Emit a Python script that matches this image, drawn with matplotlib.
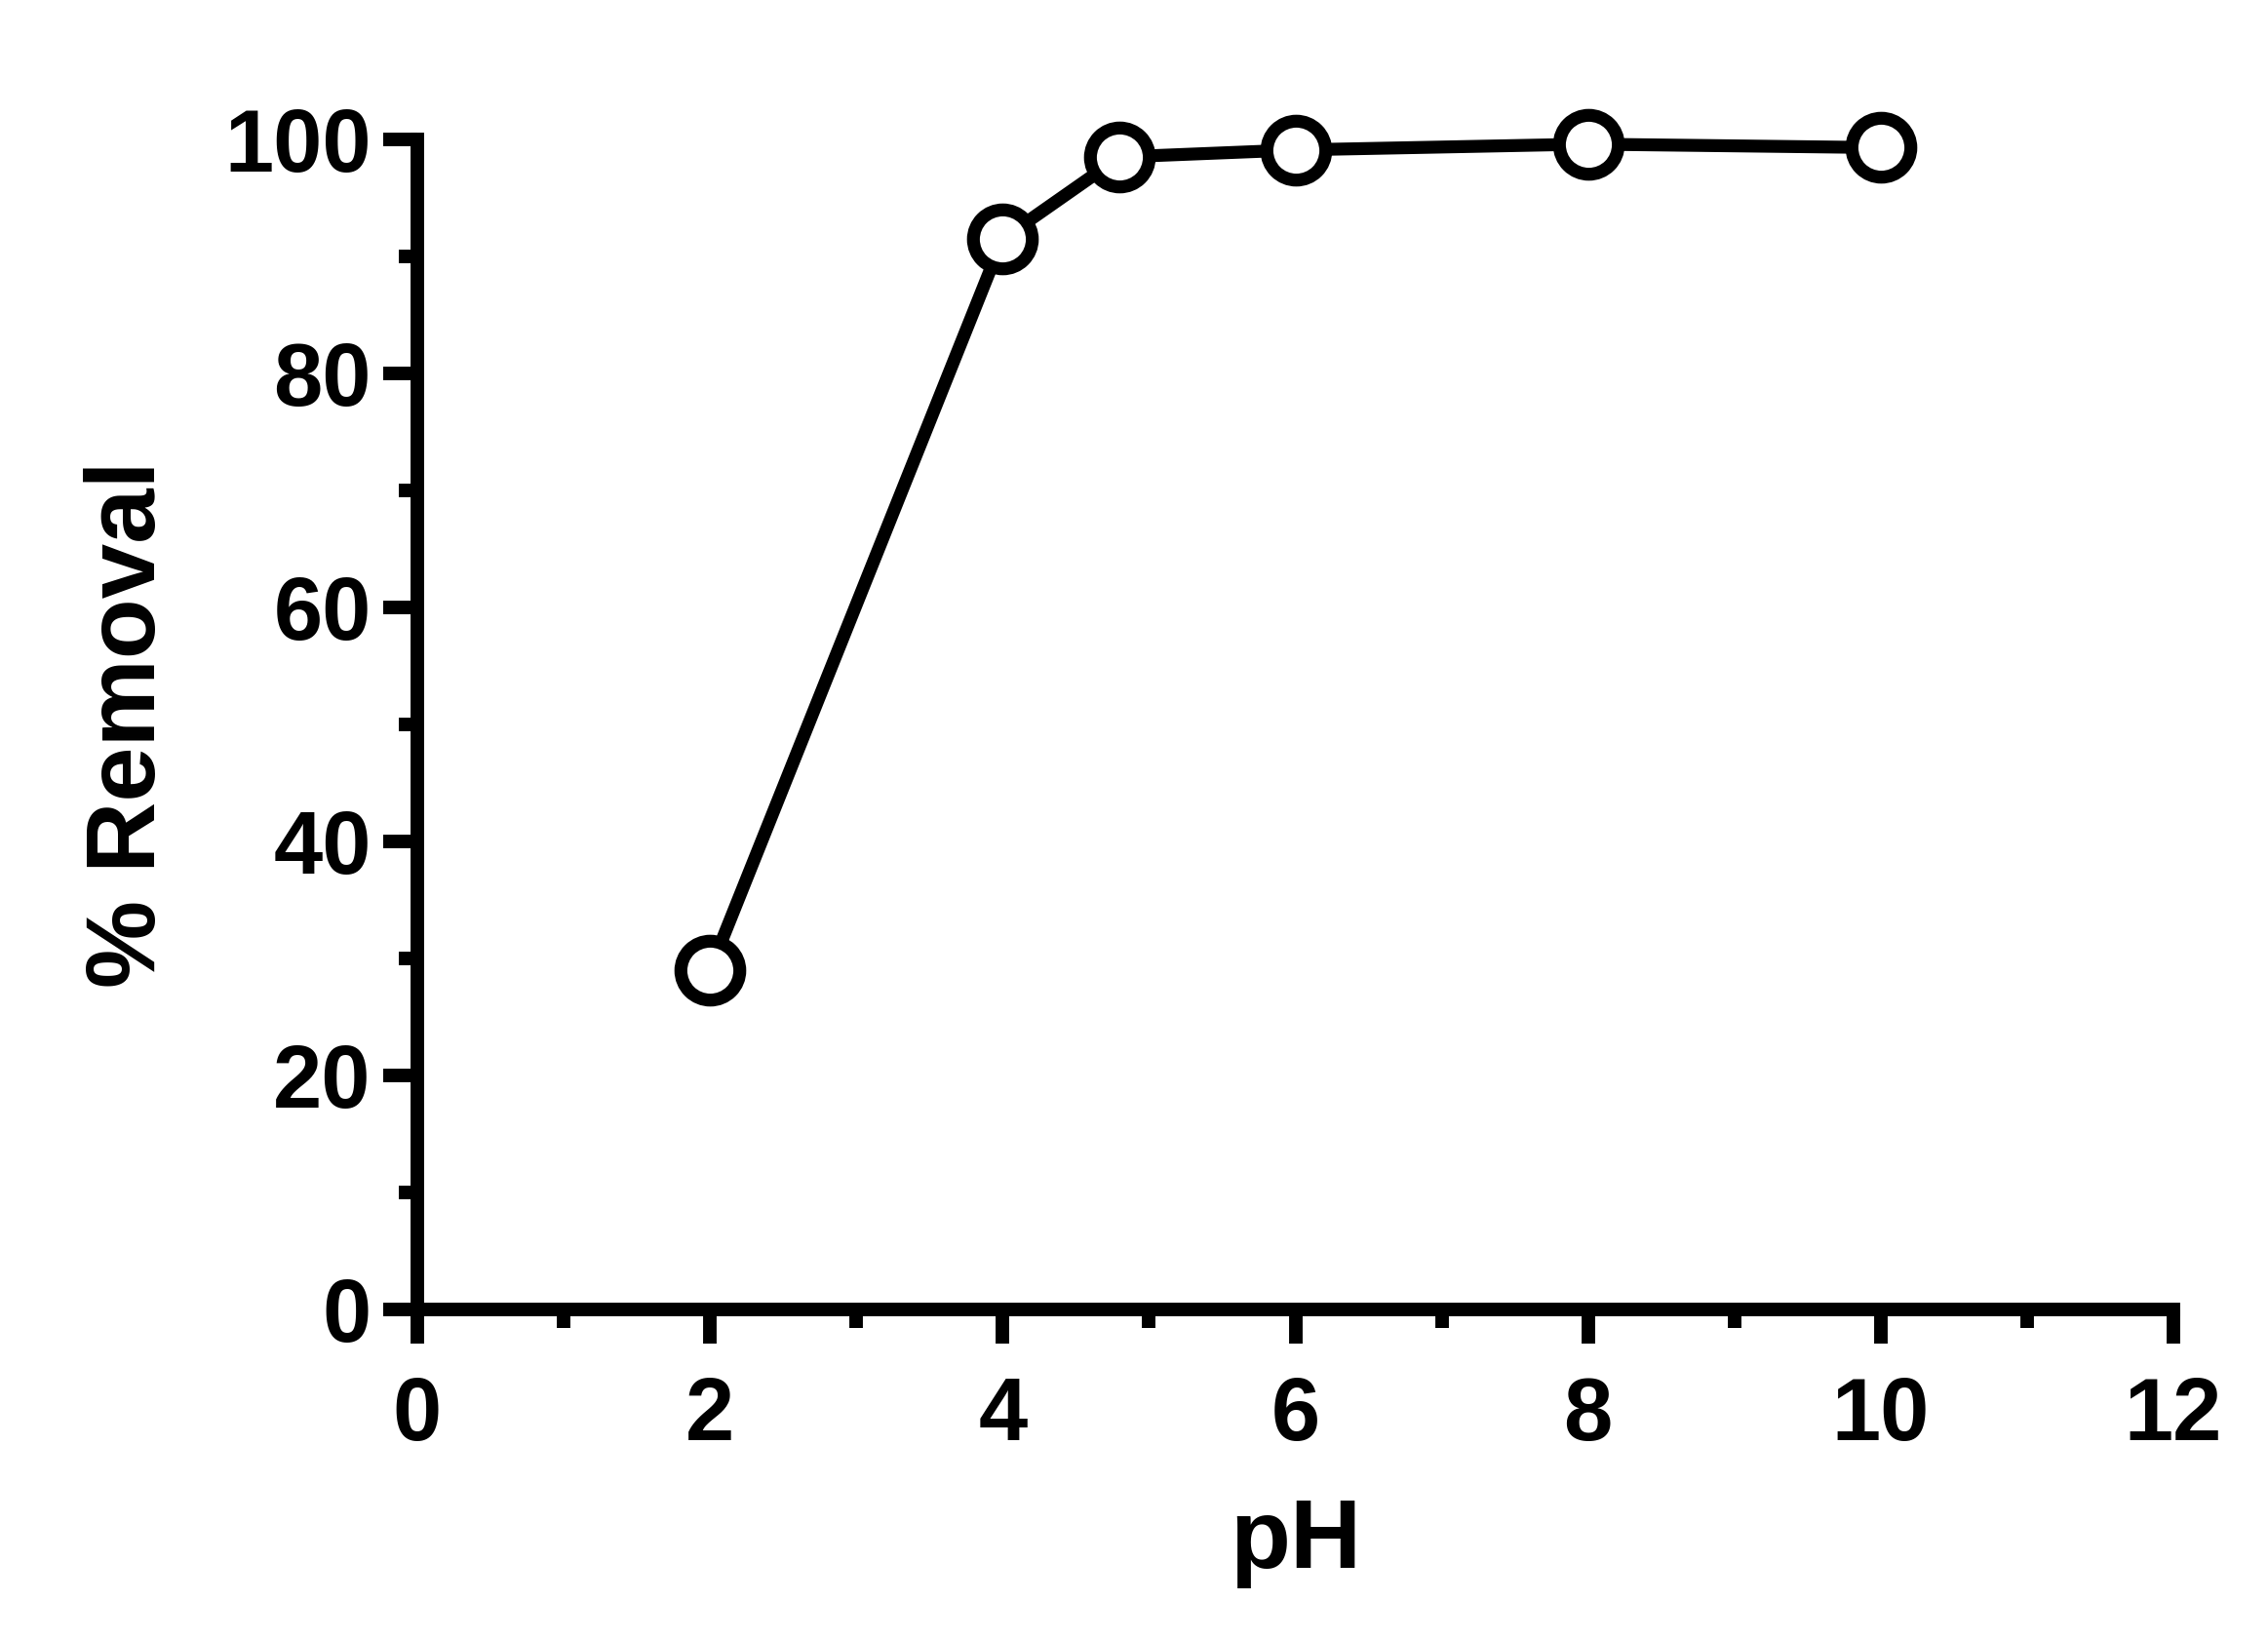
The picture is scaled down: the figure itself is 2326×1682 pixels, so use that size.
import matplotlib
matplotlib.use("Agg")
import matplotlib.pyplot as plt
from matplotlib.ticker import MultipleLocator

# Data
ph = [2, 4, 4.8, 6, 8, 10]
removal = [29.0, 91.5, 98.5, 99.1, 99.6, 99.3]

x_ticks = [0, 2, 4, 6, 8, 10, 12]
y_ticks = [0, 20, 40, 60, 80, 100]
x_label = "pH"
y_label = "% Removal"

plt.rcParams['font.family'] = ['Liberation Sans', 'DejaVu Sans']
plt.rcParams['font.weight'] = 'bold'

fig = plt.figure(figsize=(23.26, 16.82), dpi=100)
ax = fig.add_axes([428 / 2326, 1 - 1343 / 1682, (2229 - 428) / 2326, (1343 - 143) / 1682])

ax.plot(ph, removal, color='black', linewidth=9.5, marker='o', markersize=43.5,
        markerfacecolor='white', markeredgecolor='black', markeredgewidth=9.5,
        clip_on=False, zorder=3)

ax.set_xlim(0, 12)
ax.set_ylim(0, 100)
ax.set_xticks(x_ticks)
ax.set_yticks(y_ticks)
ax.xaxis.set_minor_locator(MultipleLocator(1))
ax.yaxis.set_minor_locator(MultipleLocator(10))

for s in ['top', 'right']:
    ax.spines[s].set_visible(False)
for s in ['left', 'bottom']:
    ax.spines[s].set_linewidth(10)
    ax.spines[s].set_capstyle('projecting')

ax.tick_params(which='major', length=25, width=10, direction='out')
ax.tick_params(which='minor', length=14, width=10, direction='out')
ax.tick_params(axis='x', which='major', pad=24, labelsize=65)
ax.tick_params(axis='y', which='major', pad=9, labelsize=65)
for lab in ax.get_xticklabels() + ax.get_yticklabels():
    lab.set_fontweight('bold')

ax.set_xlabel(x_label, fontsize=73, fontweight='bold', va='baseline')
ax.xaxis.set_label_coords(0.5, -(1608 - 1343) / 1200)
ax.set_ylabel(y_label, fontsize=73, fontweight='bold', va='center')
ax.yaxis.set_label_coords((133 - 428) / 1801, 0.5)

fig.savefig("out.png", dpi=100, facecolor='white')
